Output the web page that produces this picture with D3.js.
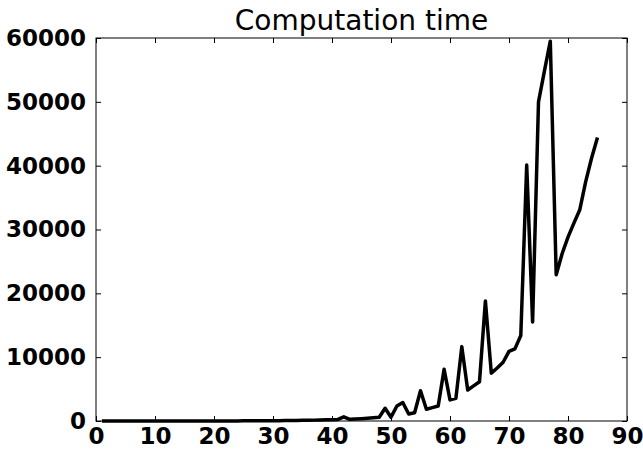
<!DOCTYPE html>
<html>
<head>
<meta charset="utf-8">
<script src="https://cdn.jsdelivr.net/npm/d3@7"></script>
<style>
  body { margin: 0; background: #fff; }
  svg { display: block; }
</style>
</head>
<body>
<svg id="chart"></svg>
<script>
// values
const steps = d3.range(1, 86);
const times = [
  0, 0, 0, 0, 0, 0, 0, 0, 1, 1,
  1, 2, 2, 3, 3, 4, 5, 6, 8, 9,
  11, 13, 15, 18, 21, 25, 30, 35, 41, 48,
  56, 65, 76, 88, 102, 118, 137, 160, 185, 215,
  250, 650, 260, 300, 350, 420, 500, 600, 2000, 600,
  2350, 2900, 1100, 1300, 4750, 1850, 2100, 2350, 8100, 3300,
  3550, 11650, 4850, 5500, 6150, 18800, 7500, 8300, 9200, 10900,
  11300, 13400, 40100, 15500, 50000, 54800, 59500, 22900, 26200, 28800,
  31000, 33100, 37500, 41200, 44400
];
const xTicks = [0, 10, 20, 30, 40, 50, 60, 70, 80, 90];
const yTicks = [0, 10000, 20000, 30000, 40000, 50000, 60000];
const title = 'Computation time';

const width = 643, height = 449;
const margin = { top: 38, right: 16, bottom: 28, left: 96 };
const innerW = width - margin.left - margin.right;
const innerH = height - margin.top - margin.bottom;

const svg = d3.select('#chart')
  .attr('width', width)
  .attr('height', height);

const g = svg.append('g')
  .attr('transform', `translate(${margin.left},${margin.top})`);

const x = d3.scaleLinear().domain([0, 90]).range([0, innerW]);
const y = d3.scaleLinear().domain([0, 60000]).range([innerH, 0]);

const font = "'DejaVu Sans', sans-serif";
const fmt = d3.format('d');

// ticks point inward, matplotlib classic style, on all four sides
const tickLen = 5;
const axes = [
  { axis: d3.axisBottom(x).tickValues(xTicks).tickFormat(fmt).tickSizeInner(-tickLen).tickSizeOuter(0).tickPadding(7), at: `translate(0,${innerH})`, labels: true },
  { axis: d3.axisTop(x).tickValues(xTicks).tickSizeInner(-tickLen).tickSizeOuter(0), at: 'translate(0,0)', labels: false },
  { axis: d3.axisLeft(y).tickValues(yTicks).tickFormat(fmt).tickSizeInner(-tickLen).tickSizeOuter(0).tickPadding(10), at: 'translate(0,0)', labels: true },
  { axis: d3.axisRight(y).tickValues(yTicks).tickSizeInner(-tickLen).tickSizeOuter(0), at: `translate(${innerW},0)`, labels: false }
];

axes.forEach(a => {
  const ax = g.append('g')
    .attr('transform', a.at)
    .call(a.axis);
  ax.select('.domain').remove();
  ax.selectAll('line').attr('stroke', '#000').attr('stroke-width', 1);
  if (a.labels) {
    ax.selectAll('text')
      .style('font-family', font)
      .style('font-weight', 'bold')
      .style('font-size', '23px')
      .attr('fill', '#000');
  } else {
    ax.selectAll('text').remove();
  }
});

// frame
g.append('rect')
  .attr('width', innerW)
  .attr('height', innerH)
  .attr('fill', 'none')
  .attr('stroke', '#000')
  .attr('stroke-width', 1);

const line = d3.line()
  .x((d, i) => x(steps[i]))
  .y(d => y(d));

g.append('path')
  .datum(times)
  .attr('d', line)
  .attr('fill', 'none')
  .attr('stroke', '#000')
  .attr('stroke-width', 3.5)
  .attr('stroke-linejoin', 'round');

svg.append('text')
  .attr('x', margin.left + innerW / 2)
  .attr('y', margin.top - 8)
  .attr('text-anchor', 'middle')
  .style('font-family', font)
  .style('font-size', '28px')
  .attr('fill', '#000')
  .text(title);
</script>
</body>
</html>
